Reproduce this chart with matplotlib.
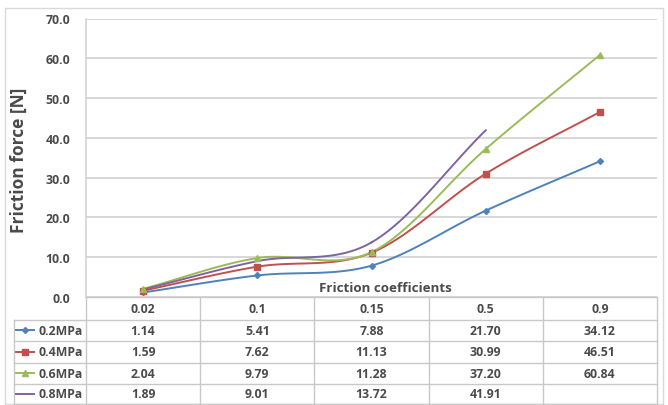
import numpy as np
import matplotlib
matplotlib.use("Agg")
import matplotlib.pyplot as plt
from matplotlib.lines import Line2D
from matplotlib.patches import Rectangle

categories = ["0.02", "0.1", "0.15", "0.5", "0.9"]
series_names = ["0.2MPa", "0.4MPa", "0.6MPa", "0.8MPa"]
s02 = [1.14, 5.41, 7.88, 21.70, 34.12]
s04 = [1.59, 7.62, 11.13, 30.99, 46.51]
s06 = [2.04, 9.79, 11.28, 37.20, 60.84]
s08 = [1.89, 9.01, 13.72, 41.91]
yticks = [0, 10, 20, 30, 40, 50, 60, 70]

colors = ["#4F81BD", "#C0504D", "#9BBB59", "#8064A2"]
markers = ["D", "s", "^", None]
msizes = [3, 4.5, 4.5, 0]
series = [s02, s04, s06, s08]

FONT = "Open Sans"
TXT = "#4a4a4a"
GRID = "#d4d4d4"
FS = 8.8

W, H = 668, 406
fig = plt.figure(figsize=(W / 100, H / 100), dpi=100)

def fx(px):
    return px / W

def fy(py):
    return 1 - py / H

L, R, T, B = 86, 657, 19.5, 298
ax = fig.add_axes([fx(L), fy(B), fx(R) - fx(L), fy(T) - fy(B)])
ax.set_xlim(-0.5, len(categories) - 0.5)
ax.set_ylim(0, 70)
ax.set_yticks(yticks)
ax.set_yticklabels([f"{v:.1f}" for v in yticks], fontfamily=FONT,
                   fontweight="bold", fontsize=FS, color=TXT)
ax.set_xticks([])
ax.tick_params(axis="y", length=0, pad=11.5)
ax.grid(axis="y", color=GRID, lw=1.3)
ax.set_axisbelow(True)
for side in ["top", "right", "bottom"]:
    ax.spines[side].set_visible(False)
ax.spines["left"].set_color(GRID)
ax.spines["left"].set_linewidth(1.2)


def catmull(xs, ys, n=30):
    xs = np.asarray(xs, float)
    ys = np.asarray(ys, float)
    px = np.concatenate([[2 * xs[0] - xs[1]], xs, [2 * xs[-1] - xs[-2]]])
    py = np.concatenate([[2 * ys[0] - ys[1]], ys, [2 * ys[-1] - ys[-2]]])
    ox, oy = [], []
    for i in range(1, len(px) - 2):
        t = np.linspace(0, 1, n)
        for arr, out in ((px, ox), (py, oy)):
            p0, p1, p2, p3 = arr[i - 1], arr[i], arr[i + 1], arr[i + 2]
            out.extend(0.5 * ((2 * p1) + (-p0 + p2) * t +
                              (2 * p0 - 5 * p1 + 4 * p2 - p3) * t ** 2 +
                              (-p0 + 3 * p1 - 3 * p2 + p3) * t ** 3))
    return np.array(ox), np.array(oy)


for vals, c, m, ms in zip(series, colors, markers, msizes):
    xs = np.arange(len(vals))
    sx, sy = catmull(xs, vals)
    ax.plot(sx, sy, color=c, lw=1.4, zorder=3)
    if m:
        ax.plot(xs, vals, ls="none", marker=m, ms=ms, color=c, zorder=4)

fig.text(fx(385), fy(288), "Friction coefficients",
         ha="center", va="center", fontfamily=FONT, fontweight="bold",
         fontsize=9.6, color=TXT)

fig.text(fx(19), fy(160), "Friction force [N]", rotation=90, ha="center",
         va="center", fontfamily=FONT, fontweight="bold", fontsize=12.5,
         color=TXT)

# outer chart border
fig.add_artist(Rectangle((fx(5), fy(405)), fx(663) - fx(5), fy(9) - fy(405),
                         transform=fig.transFigure, fill=False,
                         edgecolor="#d9d9d9", lw=1))

# data table
col_edges = [L + (R - L) * i / len(categories) for i in range(len(categories) + 1)]
row_edges = [298, 320.5, 342, 363.5, 385, 405]
TL = 14
LINE = "#c8c8c8"


def hline(x0, x1, y):
    fig.add_artist(Line2D([fx(x0), fx(x1)], [fy(y), fy(y)],
                          transform=fig.transFigure, color=LINE, lw=1))


def vline(x, y0, y1):
    fig.add_artist(Line2D([fx(x), fx(x)], [fy(y0), fy(y1)],
                          transform=fig.transFigure, color=LINE, lw=1))


hline(L, R, row_edges[0])
for y in row_edges[1:]:
    hline(TL, R, y)
for x in col_edges:
    vline(x, row_edges[0], row_edges[-1])
vline(TL, row_edges[1], row_edges[-1])

for j, cat in enumerate(categories):
    cx = (col_edges[j] + col_edges[j + 1]) / 2
    fig.text(fx(cx), fy((row_edges[0] + row_edges[1]) / 2), cat, ha="center",
             va="center", fontfamily=FONT, fontweight="bold", fontsize=FS,
             color=TXT)

for i, (name, vals, c, m) in enumerate(zip(series_names, series, colors, markers)):
    cy = (row_edges[i + 1] + row_edges[i + 2]) / 2
    fig.add_artist(Line2D([fx(16), fx(34)], [fy(cy), fy(cy)],
                          transform=fig.transFigure, color=c, lw=1.4))
    if m:
        fig.add_artist(Line2D([fx(25)], [fy(cy)], transform=fig.transFigure,
                              marker=m, ms=4 if m != "D" else 3, color=c,
                              ls="none"))
    fig.text(fx(83), fy(cy), name, ha="right", va="center", fontfamily=FONT,
             fontweight="bold", fontsize=FS, color=TXT)
    for j, v in enumerate(vals):
        cx = (col_edges[j] + col_edges[j + 1]) / 2
        fig.text(fx(cx), fy(cy), f"{v:.2f}", ha="center", va="center",
                 fontfamily=FONT, fontweight="bold", fontsize=FS, color=TXT)

fig.savefig("out.png", dpi=100)
